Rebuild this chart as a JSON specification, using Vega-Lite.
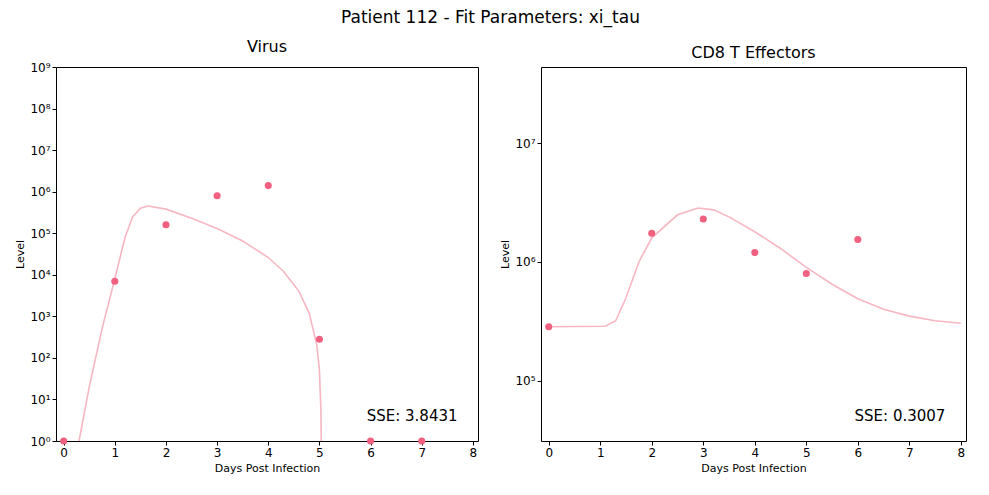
{
  "$schema": "https://vega.github.io/schema/vega-lite/v6.json",
  "title": {"text": "Patient 112 - Fit Parameters: xi_tau", "fontSize": 17, "fontWeight": "normal", "font": "DejaVu Sans", "anchor": "middle", "offset": 12},
  "config": {
    "font": "DejaVu Sans",
    "view": {"stroke": "black", "strokeWidth": 1},
    "axis": {"grid": false, "domain": false, "tickColor": "black", "labelColor": "black", "labelFontSize": 12, "titleFontSize": 11, "titleFontWeight": "normal", "titleColor": "black", "tickSize": 4},
    "title": {"fontSize": 16, "fontWeight": "normal", "offset": 6}
  },
  "padding": {"left": 14, "top": 8, "right": 5, "bottom": 5},
  "spacing": 20,
  "datasets": {
    "vobs": [
      {"t": 0, "v": 1}, {"t": 1, "v": 7000}, {"t": 2, "v": 160000}, {"t": 3, "v": 800000},
      {"t": 4, "v": 1400000}, {"t": 5, "v": 280}, {"t": 6, "v": 1}, {"t": 7, "v": 1}
    ],
    "vfit": [
      {"t": 0, "v": 0.05}, {"t": 0.3, "v": 1}, {"t": 0.5, "v": 20}, {"t": 0.75, "v": 500},
      {"t": 1.0, "v": 8000}, {"t": 1.2, "v": 80000}, {"t": 1.35, "v": 250000}, {"t": 1.5, "v": 400000},
      {"t": 1.65, "v": 450000}, {"t": 2, "v": 380000}, {"t": 2.5, "v": 230000}, {"t": 3, "v": 130000},
      {"t": 3.5, "v": 65000}, {"t": 4, "v": 26000}, {"t": 4.3, "v": 12000}, {"t": 4.6, "v": 4000},
      {"t": 4.8, "v": 1200}, {"t": 4.95, "v": 200}, {"t": 5.0, "v": 50}, {"t": 5.03, "v": 5},
      {"t": 5.05, "v": 0.01}, {"t": 5.1, "v": 0.0001}
    ],
    "cobs": [
      {"t": 0, "v": 285000}, {"t": 2, "v": 1750000}, {"t": 3, "v": 2300000},
      {"t": 4, "v": 1200000}, {"t": 5, "v": 800000}, {"t": 6, "v": 1550000}
    ],
    "cfit": [
      {"t": 0, "v": 285000}, {"t": 1.1, "v": 287000}, {"t": 1.3, "v": 320000}, {"t": 1.5, "v": 500000},
      {"t": 1.75, "v": 1000000}, {"t": 2, "v": 1600000}, {"t": 2.5, "v": 2500000}, {"t": 2.9, "v": 2850000},
      {"t": 3.2, "v": 2750000}, {"t": 3.5, "v": 2400000}, {"t": 4, "v": 1800000}, {"t": 4.5, "v": 1300000},
      {"t": 5, "v": 900000}, {"t": 5.5, "v": 650000}, {"t": 6, "v": 490000}, {"t": 6.5, "v": 400000},
      {"t": 7, "v": 350000}, {"t": 7.5, "v": 320000}, {"t": 8, "v": 305000}
    ]
  },
  "hconcat": [
    {
      "title": "Virus",
      "width": 422, "height": 374,
      "layer": [
        {
          "data": {"name": "vfit"},
          "mark": {"type": "line", "color": "#f7b6c2", "strokeWidth": 1.6, "clip": true},
          "encoding": {
            "x": {"field": "t", "type": "quantitative", "scale": {"domain": [-0.15, 8.1], "nice": false, "zero": false}, "axis": {"values": [0,1,2,3,4,5,6,7,8], "title": "Days Post Infection"}},
            "y": {"field": "v", "type": "quantitative", "scale": {"type": "log", "domain": [1, 1000000000], "nice": false}, "axis": {"title": "Level", "values": [1,10,100,1000,10000,100000,1000000,10000000,100000000,1000000000], "labelExpr": "'10' + ['⁰','¹','²','³','⁴','⁵','⁶','⁷','⁸','⁹'][round(log(datum.value)/LN10)]"}}
          }
        },
        {
          "data": {"name": "vobs"},
          "mark": {"type": "circle", "color": "#f2607f", "opacity": 1, "size": 50},
          "encoding": {"x": {"field": "t", "type": "quantitative"}, "y": {"field": "v", "type": "quantitative"}}
        },
        {
          "data": {"values": [{"t": 7.7, "v": 4, "label": "SSE: 3.8431"}]},
          "mark": {"type": "text", "align": "right", "fontSize": 15, "color": "black"},
          "encoding": {"x": {"field": "t", "type": "quantitative"}, "y": {"field": "v", "type": "quantitative"}, "text": {"field": "label"}}
        }
      ]
    },
    {
      "title": "CD8 T Effectors",
      "width": 425, "height": 374,
      "layer": [
        {
          "data": {"name": "cfit"},
          "mark": {"type": "line", "color": "#f7b6c2", "strokeWidth": 1.6, "clip": true},
          "encoding": {
            "x": {"field": "t", "type": "quantitative", "scale": {"domain": [-0.15, 8.1], "nice": false, "zero": false}, "axis": {"values": [0,1,2,3,4,5,6,7,8], "title": "Days Post Infection"}},
            "y": {"field": "v", "type": "quantitative", "scale": {"type": "log", "domain": [31000, 44000000], "nice": false}, "axis": {"title": "Level", "values": [100000, 1000000, 10000000], "labelExpr": "'10' + ['⁰','¹','²','³','⁴','⁵','⁶','⁷','⁸','⁹'][round(log(datum.value)/LN10)]"}}
          }
        },
        {
          "data": {"name": "cobs"},
          "mark": {"type": "circle", "color": "#f2607f", "opacity": 1, "size": 50},
          "encoding": {"x": {"field": "t", "type": "quantitative"}, "y": {"field": "v", "type": "quantitative"}}
        },
        {
          "data": {"values": [{"t": 7.7, "v": 50000, "label": "SSE: 0.3007"}]},
          "mark": {"type": "text", "align": "right", "fontSize": 15, "color": "black"},
          "encoding": {"x": {"field": "t", "type": "quantitative"}, "y": {"field": "v", "type": "quantitative"}, "text": {"field": "label"}}
        }
      ]
    }
  ]
}
